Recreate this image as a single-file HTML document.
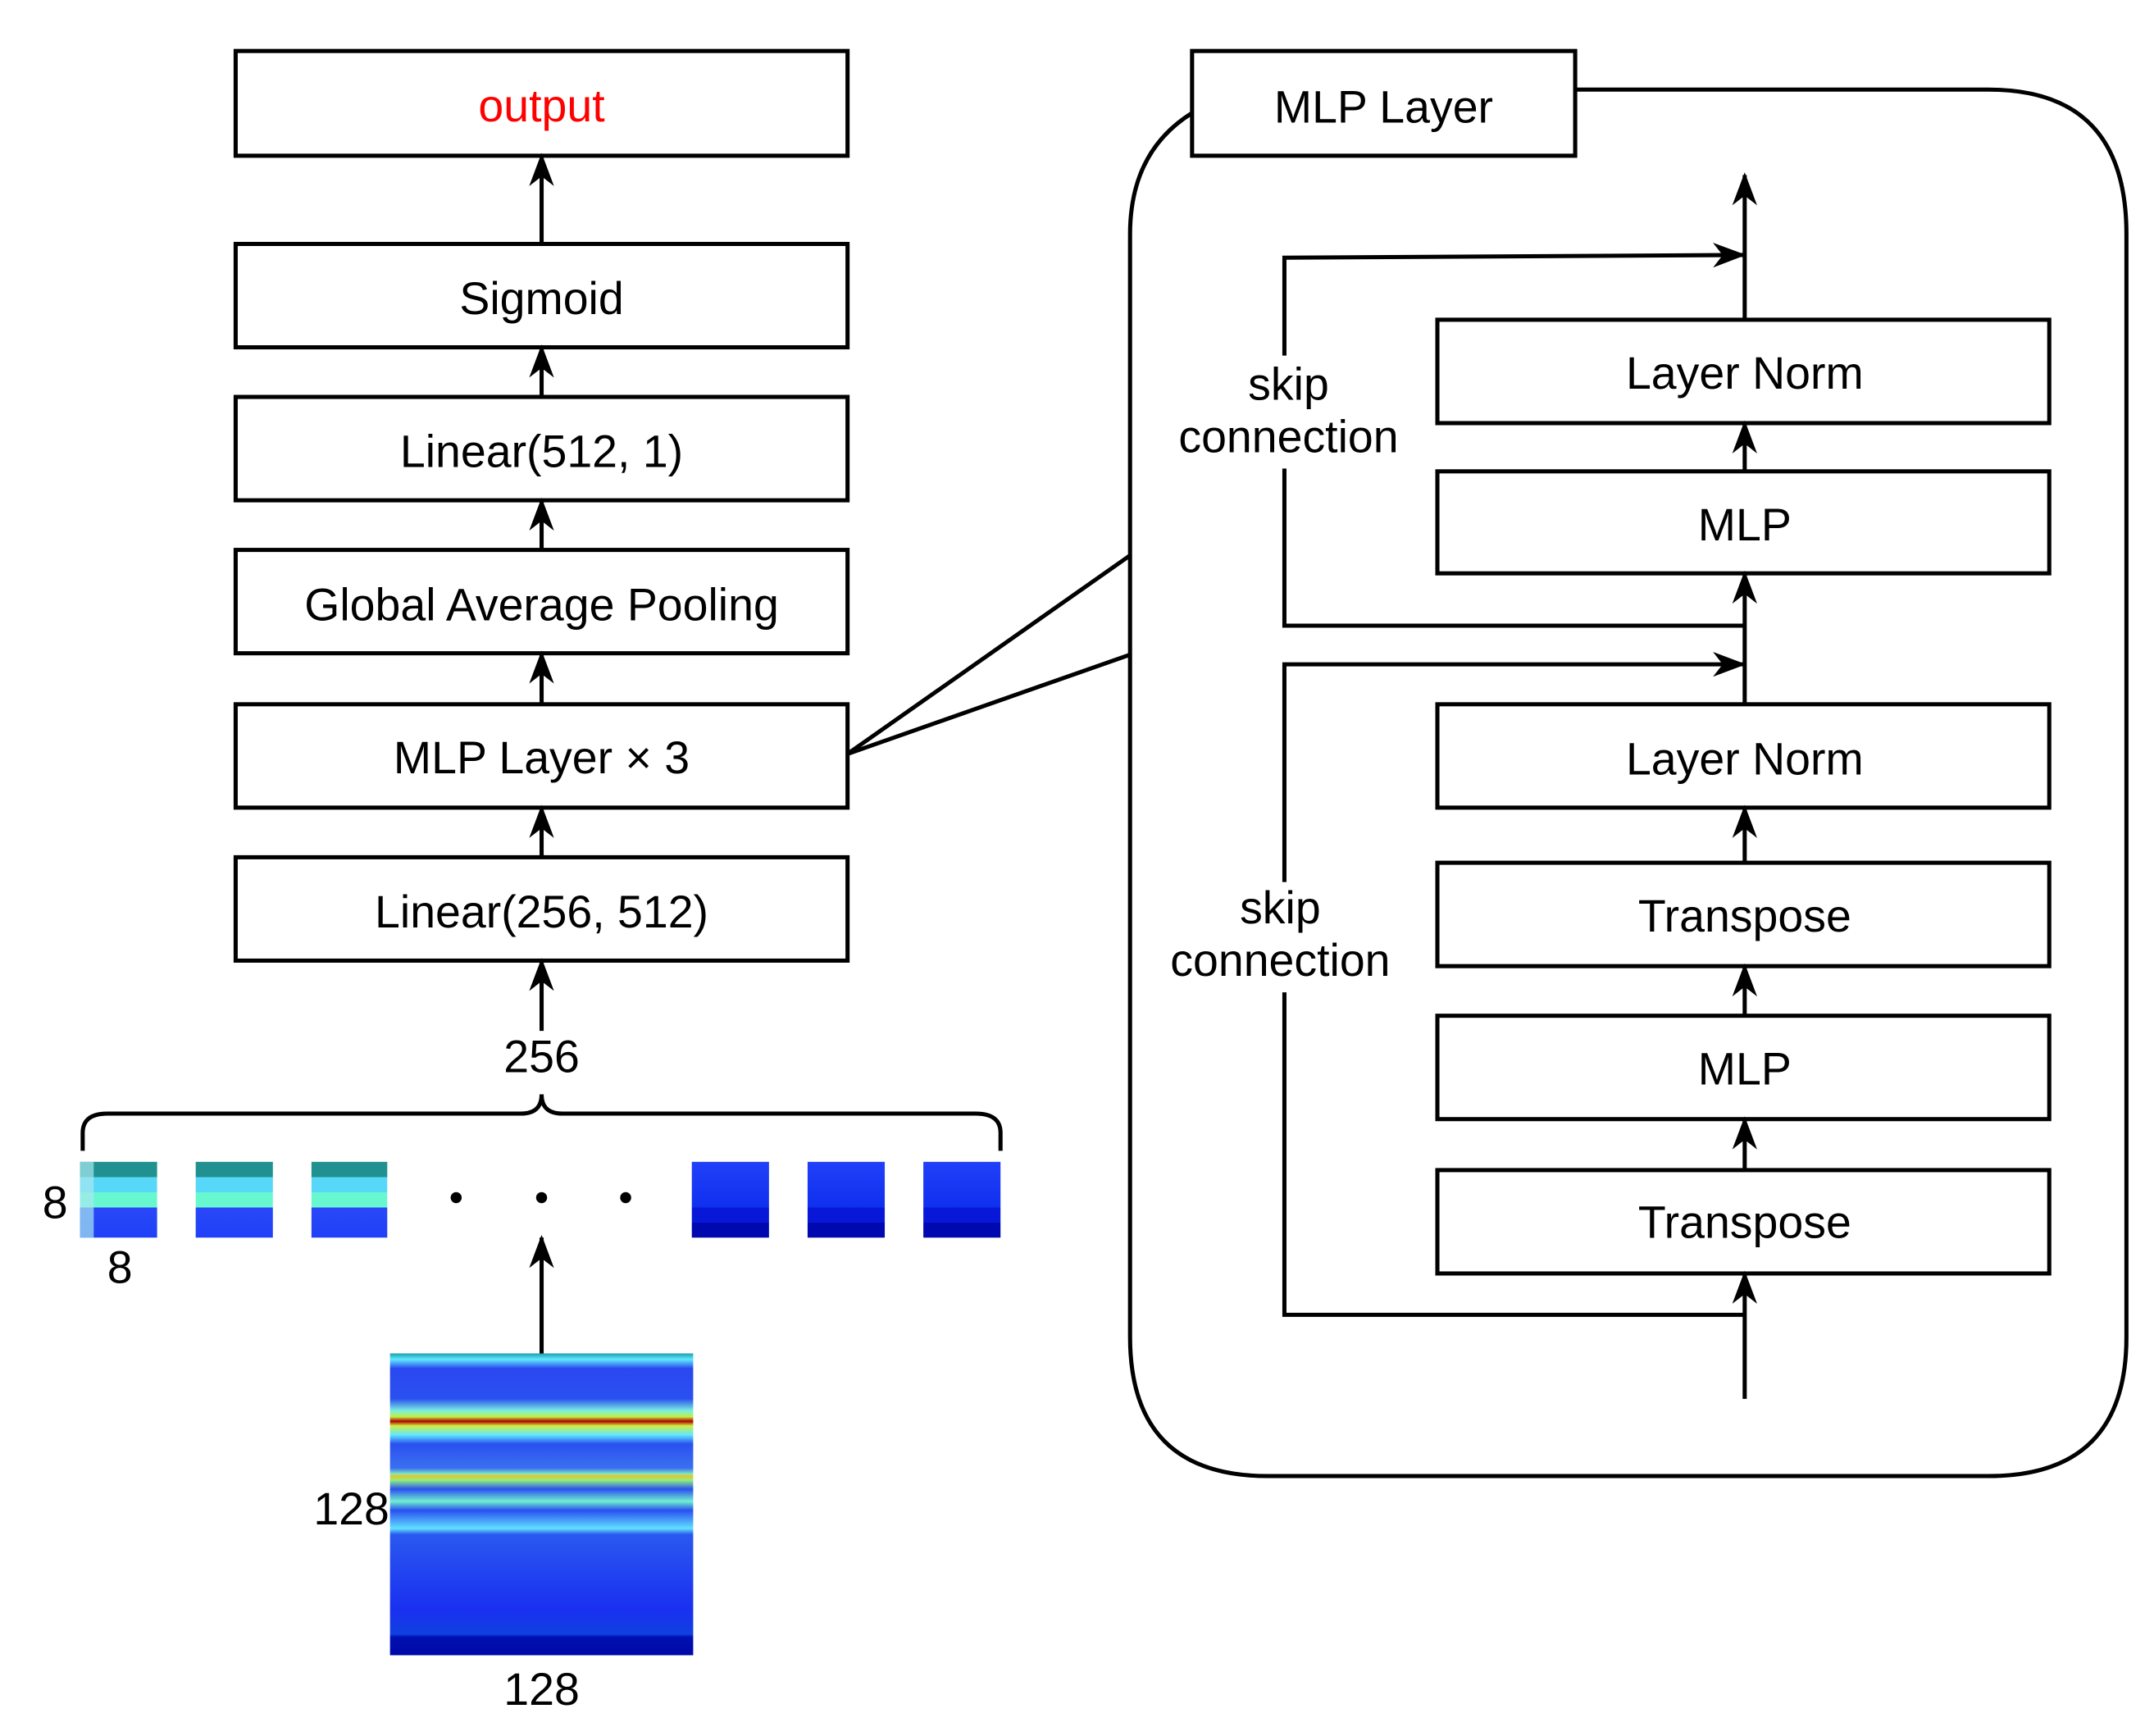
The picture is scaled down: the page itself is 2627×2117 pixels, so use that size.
<!DOCTYPE html>
<html><head><meta charset="utf-8"><style>
html,body{margin:0;padding:0;background:#fff}
svg{display:block}
text{font-family:"Liberation Sans",Arial,sans-serif;font-size:33px;text-anchor:middle;fill:#000}
</style></head><body>
<svg width="2627" height="2117" viewBox="0 0 1563 1259.6" preserveAspectRatio="none" xmlns="http://www.w3.org/2000/svg">
<defs>
<marker id="a" markerWidth="24" markerHeight="18" refX="22" refY="9" orient="auto" markerUnits="userSpaceOnUse" viewBox="0 0 24 18">
<path d="M0,0 L24,9 L0,18 L7,9 Z" fill="#000"/>
</marker>
<linearGradient id="spec" x1="0" y1="0" x2="0" y2="1">
<stop offset="0" stop-color="#1aa0b0"/>
<stop offset="0.02" stop-color="#60e8ff"/>
<stop offset="0.05" stop-color="#2a48f0"/>
<stop offset="0.15" stop-color="#2a50f0"/>
<stop offset="0.19" stop-color="#7af0e0"/>
<stop offset="0.21" stop-color="#c0f040"/>
<stop offset="0.225" stop-color="#b00000"/>
<stop offset="0.24" stop-color="#d0f040"/>
<stop offset="0.27" stop-color="#60e8ff"/>
<stop offset="0.3" stop-color="#2a50f0"/>
<stop offset="0.38" stop-color="#3a70f0"/>
<stop offset="0.4" stop-color="#80f0c0"/>
<stop offset="0.405" stop-color="#f0c020"/>
<stop offset="0.42" stop-color="#90f080"/>
<stop offset="0.45" stop-color="#2a50f0"/>
<stop offset="0.49" stop-color="#70f0d0"/>
<stop offset="0.52" stop-color="#2a50f0"/>
<stop offset="0.58" stop-color="#60e0ff"/>
<stop offset="0.6" stop-color="#2a58f0"/>
<stop offset="0.85" stop-color="#1a30f0"/>
<stop offset="0.93" stop-color="#1040e0"/>
<stop offset="0.94" stop-color="#0010b0"/>
<stop offset="1" stop-color="#0008a8"/>
</linearGradient>
<linearGradient id="p1" x1="0" y1="0" x2="0" y2="1">
<stop offset="0" stop-color="#209090"/><stop offset="0.2" stop-color="#209090"/>
<stop offset="0.2" stop-color="#58d8f8"/><stop offset="0.4" stop-color="#58d8f8"/>
<stop offset="0.4" stop-color="#68f8d0"/><stop offset="0.6" stop-color="#68f8d0"/>
<stop offset="0.6" stop-color="#2848f8"/><stop offset="1" stop-color="#2040f8"/>
</linearGradient>
<linearGradient id="p2" x1="0" y1="0" x2="0" y2="1">
<stop offset="0" stop-color="#2040f8"/><stop offset="0.6" stop-color="#1030f0"/>
<stop offset="0.6" stop-color="#0818d8"/><stop offset="0.8" stop-color="#0818d8"/>
<stop offset="0.8" stop-color="#0008b0"/><stop offset="1" stop-color="#0008b0"/>
</linearGradient>
</defs>
<g fill="none" stroke="#000" stroke-width="3">
<rect x="171" y="37" width="444" height="76"/>
<rect x="171" y="177" width="444" height="75"/>
<rect x="171" y="288" width="444" height="75"/>
<rect x="171" y="399" width="444" height="75"/>
<rect x="171" y="511" width="444" height="75"/>
<rect x="171" y="622" width="444" height="75"/>
<line x1="393" y1="177" x2="393" y2="113" marker-end="url(#a)"/>
<line x1="393" y1="288" x2="393" y2="252" marker-end="url(#a)"/>
<line x1="393" y1="399" x2="393" y2="363" marker-end="url(#a)"/>
<line x1="393" y1="511" x2="393" y2="474" marker-end="url(#a)"/>
<line x1="393" y1="622" x2="393" y2="586" marker-end="url(#a)"/>
<line x1="393" y1="748" x2="393" y2="697" marker-end="url(#a)"/>
<line x1="393" y1="982" x2="393" y2="898" marker-end="url(#a)"/>
<path d="M60,835 V822 Q60,808 78,808 H378 Q393,808 393,794 Q393,808 408,808 H708 Q726,808 726,822 V835"/>
<line x1="615" y1="547" x2="820" y2="403"/>
<line x1="615" y1="547" x2="820" y2="475"/>
<path d="M1143,65 H1443 Q1543,65 1543,170 V970 Q1543,1071 1443,1071 H920 Q820,1071 820,970 V170 Q820,110 865,82"/>
<rect x="865" y="37" width="278" height="76" fill="#fff"/>
<rect x="1043" y="232" width="444" height="75"/>
<rect x="1043" y="342" width="444" height="74"/>
<rect x="1043" y="511" width="444" height="75"/>
<rect x="1043" y="626" width="444" height="75"/>
<rect x="1043" y="737" width="444" height="75"/>
<rect x="1043" y="849" width="444" height="75"/>
<line x1="1266" y1="232" x2="1266" y2="127" marker-end="url(#a)"/>
<line x1="1266" y1="342" x2="1266" y2="307" marker-end="url(#a)"/>
<line x1="1266" y1="511" x2="1266" y2="416" marker-end="url(#a)"/>
<line x1="1266" y1="626" x2="1266" y2="586" marker-end="url(#a)"/>
<line x1="1266" y1="737" x2="1266" y2="701" marker-end="url(#a)"/>
<line x1="1266" y1="849" x2="1266" y2="812" marker-end="url(#a)"/>
<line x1="1266" y1="1015" x2="1266" y2="924" marker-end="url(#a)"/>
<path d="M1266,454 H932 V340 M932,258 V187 L1265,185" marker-end="url(#a)"/>
<path d="M1266,954 H932 V720 M932,640 V482 H1265" marker-end="url(#a)"/>
</g>
<text x="393" y="88" style="fill:#f00">output</text>
<text x="393" y="228">Sigmoid</text>
<text x="393" y="339">Linear(512, 1)</text>
<text x="393" y="450">Global Average Pooling</text>
<text x="393" y="561">MLP Layer × 3</text>
<text x="393" y="673">Linear(256, 512)</text>
<text x="393" y="778">256</text>
<text x="1004" y="89">MLP Layer</text>
<text x="1266" y="282">Layer Norm</text>
<text x="1266" y="392">MLP</text>
<text x="1266" y="562">Layer Norm</text>
<text x="1266" y="676">Transpose</text>
<text x="1266" y="787">MLP</text>
<text x="1266" y="898">Transpose</text>
<text x="935" y="290">skip</text>
<text x="935" y="328">connection</text>
<text x="929" y="670">skip</text>
<text x="929" y="708">connection</text>
<text x="40" y="884">8</text>
<text x="87" y="931">8</text>
<text x="255" y="1106">128</text>
<text x="393" y="1237">128</text>
<rect x="58" y="843" width="56" height="55" fill="url(#p1)"/>
<rect x="58" y="843" width="10" height="55" fill="#a8e8f0" opacity="0.7"/>
<rect x="142" y="843" width="56" height="55" fill="url(#p1)"/>
<rect x="226" y="843" width="55" height="55" fill="url(#p1)"/>
<rect x="502" y="843" width="56" height="55" fill="url(#p2)"/>
<rect x="586" y="843" width="56" height="55" fill="url(#p2)"/>
<rect x="670" y="843" width="56" height="55" fill="url(#p2)"/>
<circle cx="331" cy="869" r="4"/><circle cx="393" cy="869" r="4"/><circle cx="454" cy="869" r="4"/>
<rect x="283" y="982" width="220" height="219" fill="url(#spec)"/>
</svg>
</body></html>
